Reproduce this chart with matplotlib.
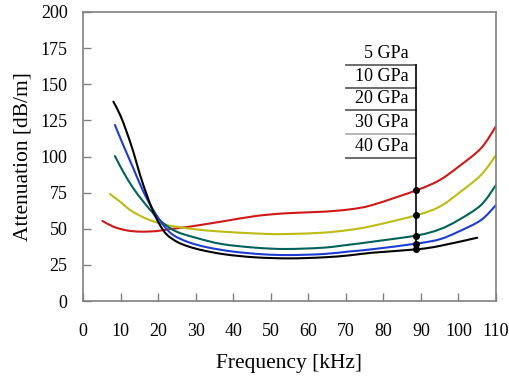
import numpy as np
import matplotlib
matplotlib.use("Agg")
import matplotlib.pyplot as plt
from matplotlib.path import Path
from matplotlib.patches import PathPatch

plt.rcParams['font.family'] = ['Liberation Serif', 'DejaVu Serif']

# Data (frequency kHz, attenuation dB/m) per modulus
labels = ["5 GPa", "10 GPa", "20 GPa", "30 GPa", "40 GPa"]
colors = ["#d01818", "#bcbc14", "#00625a", "#1c3cd2", "#000000"]

x_5 = [5.2, 8.1, 11.6, 15.2, 19.6, 23.2, 28, 37, 46, 54, 64, 71, 77, 89, 95, 100, 106, 110]
y_5 = [55.4, 51.4, 48.9, 48.0, 48.4, 49.8, 51.3, 55, 58.8, 60.7, 61.8, 63.4, 66.4, 76.8, 83.7, 92.9, 105.7, 121]

x_10 = [7.2, 9.9, 12.5, 15.2, 17.8, 21.4, 24.9, 30, 37, 49, 55, 64, 71, 77, 89, 95, 100, 106, 110]
y_10 = [74, 68.7, 63, 59, 56, 53.1, 51.4, 49.6, 48, 46.4, 46.4, 47.3, 49.2, 51.9, 59.5, 65.3, 74.5, 87.2, 101]

x_20 = [8.5, 10.7, 13.4, 16.1, 18.7, 21.4, 24.9, 30, 37, 46, 54, 64, 71, 77, 89, 95, 100, 106, 110]
y_20 = [100.3, 89.5, 78, 68.7, 60.7, 53.8, 48, 43.8, 39.4, 36.9, 36, 36.9, 39, 41, 45.4, 49.6, 56, 66.4, 80.3]

x_30 = [8.5, 10.7, 13.4, 16.1, 18.7, 21.4, 24, 28, 33, 40, 48, 55, 64, 71, 77, 89, 95, 100, 106, 110]
y_30 = [121.8, 108, 91.8, 75.6, 63, 52.6, 45.7, 40.8, 37.2, 34.2, 32.3, 31.8, 32.5, 34.3, 35.8, 39.8, 42.7, 48, 56, 66.4]

x_40 = [8.1, 9.9, 11.6, 13.4, 15.2, 17, 18.7, 20.5, 22.3, 25, 28, 32, 38, 46, 55, 64, 71, 77, 89, 95, 105]
y_40 = [137.9, 128.7, 117.2, 103.3, 87.2, 73.4, 61.8, 52.6, 46, 41, 37.8, 35, 32.2, 30.2, 29.5, 30.2, 31.6, 33.4, 35.8, 38.1, 43.8]

xs = [x_5, x_10, x_20, x_30, x_40]
ys = [y_5, y_10, y_20, y_30, y_40]

marker_freq = 88.8
label_levels = [163.3, 147.4, 132.2, 115.6, 99.0]

x_ticks = list(range(0, 111, 10))
y_ticks = list(range(0, 201, 25))


def smooth_path(x, y, tension=1/6):
    """Catmull-Rom style cubic Bezier path through the points (smoothed line)."""
    p = np.column_stack([x, y]).astype(float)
    n = len(p)
    verts = [p[0]]
    codes = [Path.MOVETO]
    for i in range(n - 1):
        p0 = p[i - 1] if i > 0 else p[i]
        p1 = p[i]
        p2 = p[i + 1]
        p3 = p[i + 2] if i + 2 < n else p[i + 1]
        c1 = p1 + (p2 - p0) * tension
        c2 = p2 - (p3 - p1) * tension
        verts += [c1, c2, p2]
        codes += [Path.CURVE4] * 3
    return Path(verts, codes)


fig = plt.figure(figsize=(5.10, 3.76), dpi=100)
ax = fig.add_axes([83/510, 1 - 301/376, (496-83)/510, (301-12)/376])

for x, y, c in zip(xs, ys, colors):
    ax.add_patch(PathPatch(smooth_path(x, y), facecolor='none', edgecolor=c,
                           lw=1.5, capstyle='round', joinstyle='round'))

# dots at marker frequency
dot_y = [float(np.interp(marker_freq, x, y)) for x, y in zip(xs, ys)]
ax.plot([marker_freq]*len(dot_y), dot_y, 'o', color='black', ms=4, zorder=5)

# label table
x_left = 70.0
ax.plot([marker_freq, marker_freq], [label_levels[0], min(dot_y)], color='black', lw=1.2, zorder=4)
for i, (lab, lev) in enumerate(zip(labels, label_levels)):
    lc = '#b0b0b0' if i == 3 else '#606060'
    ax.plot([x_left, marker_freq], [lev, lev], color=lc, lw=1.3)
    ax.text(marker_freq - 2.2, lev + 2.0, lab, ha='right', va='bottom', fontsize=13)

ax.set_xlim(0, 110)
ax.set_ylim(0, 200)
ax.set_xticks(x_ticks)
ax.set_yticks(y_ticks)
ax.tick_params(axis='x', direction='in', length=6, width=1, color='#808080', pad=16, labelsize=13)
ax.tick_params(axis='y', direction='in', length=6, width=1, color='#808080', pad=11, labelsize=13)
for s in ax.spines.values():
    s.set_color('#808080')
    s.set_linewidth(1.2)

ax.set_xlabel('Frequency [kHz]', fontsize=15.5)
ax.set_ylabel('Attenuation [dB/m]', fontsize=15.5)
ax.xaxis.set_label_coords(0.5, -0.185)
ax.yaxis.set_label_coords(-0.123, 0.5)

fig.savefig('out.png', dpi=100)
